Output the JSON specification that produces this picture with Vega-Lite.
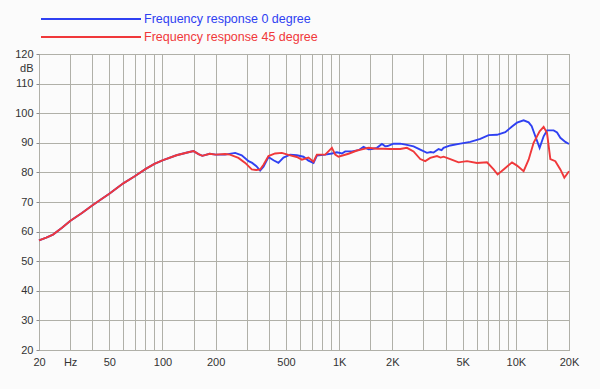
{
  "$schema": "https://vega.github.io/schema/vega-lite/v6.json",
  "width": 530,
  "height": 296,
  "autosize": {"type": "none"},
  "padding": {"left": 39, "top": 54, "right": 31, "bottom": 39},
  "background": "#fbfbfb",
  "config": {"view": {"stroke": "#8c8c8c", "strokeWidth": 1}, "font": "Liberation Sans"},
  "data": {"values": [
    {"f":20,"db":57,"s":"Frequency response 0 degree"},{"f":22,"db":58,"s":"Frequency response 0 degree"},{"f":24,"db":59,"s":"Frequency response 0 degree"},{"f":27,"db":61.3,"s":"Frequency response 0 degree"},{"f":30,"db":63.6,"s":"Frequency response 0 degree"},{"f":35,"db":66.3,"s":"Frequency response 0 degree"},{"f":40,"db":68.8,"s":"Frequency response 0 degree"},{"f":45,"db":70.9,"s":"Frequency response 0 degree"},{"f":50,"db":72.8,"s":"Frequency response 0 degree"},{"f":60,"db":76.3,"s":"Frequency response 0 degree"},{"f":70,"db":78.8,"s":"Frequency response 0 degree"},{"f":80,"db":81.1,"s":"Frequency response 0 degree"},{"f":90,"db":82.9,"s":"Frequency response 0 degree"},{"f":100,"db":84.1,"s":"Frequency response 0 degree"},{"f":120,"db":85.8,"s":"Frequency response 0 degree"},{"f":140,"db":86.8,"s":"Frequency response 0 degree"},{"f":150,"db":87.2,"s":"Frequency response 0 degree"},{"f":160,"db":86.2,"s":"Frequency response 0 degree"},{"f":168,"db":85.6,"s":"Frequency response 0 degree"},{"f":185,"db":86.3,"s":"Frequency response 0 degree"},{"f":200,"db":86.0,"s":"Frequency response 0 degree"},
    {"f":226,"db":86.0,"s":"Frequency response 0 degree"},{"f":258,"db":86.6,"s":"Frequency response 0 degree"},{"f":281,"db":85.8,"s":"Frequency response 0 degree"},{"f":307,"db":83.8,"s":"Frequency response 0 degree"},{"f":322,"db":83.2,"s":"Frequency response 0 degree"},{"f":340,"db":82.1,"s":"Frequency response 0 degree"},{"f":357,"db":80.6,"s":"Frequency response 0 degree"},{"f":373,"db":81.9,"s":"Frequency response 0 degree"},{"f":398,"db":85.2,"s":"Frequency response 0 degree"},{"f":425,"db":84.1,"s":"Frequency response 0 degree"},{"f":453,"db":83.2,"s":"Frequency response 0 degree"},{"f":484,"db":85.0,"s":"Frequency response 0 degree"},{"f":528,"db":86.0,"s":"Frequency response 0 degree"},{"f":576,"db":85.8,"s":"Frequency response 0 degree"},{"f":628,"db":85.3,"s":"Frequency response 0 degree"},{"f":670,"db":84.0,"s":"Frequency response 0 degree"},{"f":716,"db":83.2,"s":"Frequency response 0 degree"},{"f":748,"db":85.7,"s":"Frequency response 0 degree"},{"f":834,"db":86.0,"s":"Frequency response 0 degree"},{"f":910,"db":86.4,"s":"Frequency response 0 degree"},{"f":971,"db":86.8,"s":"Frequency response 0 degree"},{"f":1037,"db":86.4,"s":"Frequency response 0 degree"},{"f":1082,"db":87.1,"s":"Frequency response 0 degree"},{"f":1181,"db":87.1,"s":"Frequency response 0 degree"},{"f":1287,"db":87.5,"s":"Frequency response 0 degree"},{"f":1374,"db":88.6,"s":"Frequency response 0 degree"},{"f":1466,"db":87.8,"s":"Frequency response 0 degree"},{"f":1533,"db":87.9,"s":"Frequency response 0 degree"},{"f":1636,"db":88.3,"s":"Frequency response 0 degree"},{"f":1747,"db":89.6,"s":"Frequency response 0 degree"},{"f":1823,"db":88.8,"s":"Frequency response 0 degree"},{"f":1880,"db":88.9,"s":"Frequency response 0 degree"},{"f":2031,"db":89.7,"s":"Frequency response 0 degree"},{"f":2216,"db":89.7,"s":"Frequency response 0 degree"},{"f":2419,"db":89.3,"s":"Frequency response 0 degree"},{"f":2637,"db":88.8,"s":"Frequency response 0 degree"},{"f":2878,"db":87.7,"s":"Frequency response 0 degree"},{"f":3141,"db":86.6,"s":"Frequency response 0 degree"},{"f":3300,"db":86.9,"s":"Frequency response 0 degree"},{"f":3423,"db":86.7,"s":"Frequency response 0 degree"},{"f":3653,"db":87.9,"s":"Frequency response 0 degree"},{"f":3800,"db":87.5,"s":"Frequency response 0 degree"},{"f":3899,"db":88.3,"s":"Frequency response 0 degree"},{"f":4257,"db":89.1,"s":"Frequency response 0 degree"},{"f":4848,"db":89.7,"s":"Frequency response 0 degree"},{"f":5524,"db":90.3,"s":"Frequency response 0 degree"},{"f":6294,"db":91.3,"s":"Frequency response 0 degree"},{"f":7012,"db":92.6,"s":"Frequency response 0 degree"},{"f":7826,"db":92.7,"s":"Frequency response 0 degree"},{"f":8718,"db":93.6,"s":"Frequency response 0 degree"},{"f":9516,"db":95.5,"s":"Frequency response 0 degree"},{"f":10157,"db":96.8,"s":"Frequency response 0 degree"},{"f":11070,"db":97.6,"s":"Frequency response 0 degree"},{"f":11816,"db":96.9,"s":"Frequency response 0 degree"},{"f":12300,"db":95.6,"s":"Frequency response 0 degree"},{"f":12896,"db":92.2,"s":"Frequency response 0 degree"},{"f":13638,"db":88.3,"s":"Frequency response 0 degree"},{"f":14370,"db":92.2,"s":"Frequency response 0 degree"},{"f":15020,"db":94.2,"s":"Frequency response 0 degree"},{"f":16372,"db":94.2,"s":"Frequency response 0 degree"},{"f":17116,"db":93.5,"s":"Frequency response 0 degree"},{"f":17868,"db":91.7,"s":"Frequency response 0 degree"},{"f":19070,"db":90.3,"s":"Frequency response 0 degree"},{"f":20000,"db":89.6,"s":"Frequency response 0 degree"},
    {"f":20,"db":57,"s":"Frequency response 45 degree"},{"f":22,"db":58,"s":"Frequency response 45 degree"},{"f":24,"db":59,"s":"Frequency response 45 degree"},{"f":27,"db":61.3,"s":"Frequency response 45 degree"},{"f":30,"db":63.6,"s":"Frequency response 45 degree"},{"f":35,"db":66.3,"s":"Frequency response 45 degree"},{"f":40,"db":68.8,"s":"Frequency response 45 degree"},{"f":45,"db":70.9,"s":"Frequency response 45 degree"},{"f":50,"db":72.8,"s":"Frequency response 45 degree"},{"f":60,"db":76.3,"s":"Frequency response 45 degree"},{"f":70,"db":78.8,"s":"Frequency response 45 degree"},{"f":80,"db":81.1,"s":"Frequency response 45 degree"},{"f":90,"db":82.9,"s":"Frequency response 45 degree"},{"f":100,"db":84.1,"s":"Frequency response 45 degree"},{"f":120,"db":85.8,"s":"Frequency response 45 degree"},{"f":140,"db":86.8,"s":"Frequency response 45 degree"},{"f":150,"db":87.2,"s":"Frequency response 45 degree"},{"f":160,"db":86.2,"s":"Frequency response 45 degree"},{"f":168,"db":85.6,"s":"Frequency response 45 degree"},{"f":185,"db":86.3,"s":"Frequency response 45 degree"},{"f":200,"db":86.0,"s":"Frequency response 45 degree"},
    {"f":226,"db":86.2,"s":"Frequency response 45 degree"},{"f":241,"db":86.0,"s":"Frequency response 45 degree"},{"f":269,"db":84.9,"s":"Frequency response 45 degree"},{"f":294,"db":83.2,"s":"Frequency response 45 degree"},{"f":320,"db":81.0,"s":"Frequency response 45 degree"},{"f":340,"db":80.8,"s":"Frequency response 45 degree"},{"f":357,"db":81.0,"s":"Frequency response 45 degree"},{"f":373,"db":82.6,"s":"Frequency response 45 degree"},{"f":398,"db":85.5,"s":"Frequency response 45 degree"},{"f":434,"db":86.4,"s":"Frequency response 45 degree"},{"f":474,"db":86.6,"s":"Frequency response 45 degree"},{"f":516,"db":85.9,"s":"Frequency response 45 degree"},{"f":576,"db":85.2,"s":"Frequency response 45 degree"},{"f":615,"db":84.3,"s":"Frequency response 45 degree"},{"f":670,"db":85.0,"s":"Frequency response 45 degree"},{"f":716,"db":83.6,"s":"Frequency response 45 degree"},{"f":748,"db":86.0,"s":"Frequency response 45 degree"},{"f":834,"db":86.0,"s":"Frequency response 45 degree"},{"f":910,"db":88.3,"s":"Frequency response 45 degree"},{"f":950,"db":86.0,"s":"Frequency response 45 degree"},{"f":991,"db":85.3,"s":"Frequency response 45 degree"},{"f":1130,"db":86.3,"s":"Frequency response 45 degree"},{"f":1261,"db":87.4,"s":"Frequency response 45 degree"},{"f":1346,"db":87.8,"s":"Frequency response 45 degree"},{"f":1466,"db":88.3,"s":"Frequency response 45 degree"},{"f":1636,"db":88.0,"s":"Frequency response 45 degree"},{"f":1783,"db":88.0,"s":"Frequency response 45 degree"},{"f":1946,"db":87.9,"s":"Frequency response 45 degree"},{"f":2216,"db":87.9,"s":"Frequency response 45 degree"},{"f":2419,"db":88.3,"s":"Frequency response 45 degree"},{"f":2637,"db":87.1,"s":"Frequency response 45 degree"},{"f":2878,"db":84.5,"s":"Frequency response 45 degree"},{"f":3071,"db":83.8,"s":"Frequency response 45 degree"},{"f":3278,"db":84.9,"s":"Frequency response 45 degree"},{"f":3578,"db":85.5,"s":"Frequency response 45 degree"},{"f":3750,"db":85.0,"s":"Frequency response 45 degree"},{"f":3899,"db":85.3,"s":"Frequency response 45 degree"},{"f":4257,"db":84.5,"s":"Frequency response 45 degree"},{"f":4742,"db":83.4,"s":"Frequency response 45 degree"},{"f":5292,"db":83.8,"s":"Frequency response 45 degree"},{"f":6028,"db":83.2,"s":"Frequency response 45 degree"},{"f":6868,"db":83.4,"s":"Frequency response 45 degree"},{"f":7488,"db":81.0,"s":"Frequency response 45 degree"},{"f":7888,"db":79.3,"s":"Frequency response 45 degree"},{"f":8530,"db":81.0,"s":"Frequency response 45 degree"},{"f":9516,"db":83.4,"s":"Frequency response 45 degree"},{"f":10157,"db":82.3,"s":"Frequency response 45 degree"},{"f":11070,"db":80.4,"s":"Frequency response 45 degree"},{"f":11816,"db":84.3,"s":"Frequency response 45 degree"},{"f":12610,"db":90.0,"s":"Frequency response 45 degree"},{"f":13638,"db":93.9,"s":"Frequency response 45 degree"},{"f":14370,"db":95.4,"s":"Frequency response 45 degree"},{"f":15020,"db":93.3,"s":"Frequency response 45 degree"},{"f":15683,"db":84.5,"s":"Frequency response 45 degree"},{"f":16738,"db":83.8,"s":"Frequency response 45 degree"},{"f":17868,"db":81.0,"s":"Frequency response 45 degree"},{"f":18820,"db":78.2,"s":"Frequency response 45 degree"},{"f":20000,"db":80.4,"s":"Frequency response 45 degree"}
  ]},
  "mark": {"type": "line", "strokeWidth": 1.9},
  "encoding": {
    "x": {
      "field": "f", "type": "quantitative",
      "scale": {"type": "log", "domain": [20, 20000], "nice": false},
      "axis": {
        "title": null,
        "values": [20,30,40,50,60,70,80,90,100,150,200,300,400,500,600,700,800,900,1000,1500,2000,3000,4000,5000,6000,7000,8000,9000,10000,15000,20000],
        "labelExpr": "datum.value==20?'20':datum.value==30?'Hz':datum.value==50?'50':datum.value==100?'100':datum.value==200?'200':datum.value==500?'500':datum.value==1000?'1K':datum.value==2000?'2K':datum.value==5000?'5K':datum.value==10000?'10K':datum.value==20000?'20K':''",
        "grid": true, "gridColor": "#b0b0a8", "gridWidth": 1, "gridOpacity": 1,
        "ticks": false, "domain": false,
        "labelFontSize": 11, "labelColor": "#333333", "labelPadding": 6,
        "labelFlush": false, "labelOverlap": false, "labelBound": false
      }
    },
    "y": {
      "field": "db", "type": "quantitative",
      "scale": {"domain": [20, 120], "nice": false, "zero": false},
      "axis": {
        "title": null,
        "values": [20,30,40,50,60,70,80,90,100,110,115,120],
        "labelExpr": "datum.value==115?'dB':datum.label",
        "grid": true,
        "gridColor": {"condition": {"test": "datum.value==115", "value": "transparent"}, "value": "#b0b0a8"},
        "gridOpacity": 1,
        "ticks": true, "tickSize": 3,
        "tickColor": {"condition": {"test": "datum.value==115", "value": "transparent"}, "value": "#8c8c8c"},
        "domain": false,
        "labelFontSize": 11, "labelColor": "#333333", "labelPadding": 3,
        "labelFlush": false, "labelOverlap": false
      }
    },
    "color": {
      "field": "s", "type": "nominal",
      "scale": {"domain": ["Frequency response 0 degree", "Frequency response 45 degree"], "range": ["#2f40f2", "#f0383a"]},
      "legend": {
        "title": null,
        "orient": "none", "legendX": 41, "legendY": -46,
        "direction": "vertical",
        "symbolType": "M-5,0H5", "symbolSize": 400, "symbolStrokeWidth": 2,
        "labelFontSize": 12.5, "labelLimit": 400, "labelOffset": 42,
        "rowPadding": 0,
        "encode": {"labels": {"update": {"fill": {"signal": "indexof(datum.label, '45') >= 0 ? '#f0383a' : '#2f40f2'"}}}}
      }
    }
  }
}
